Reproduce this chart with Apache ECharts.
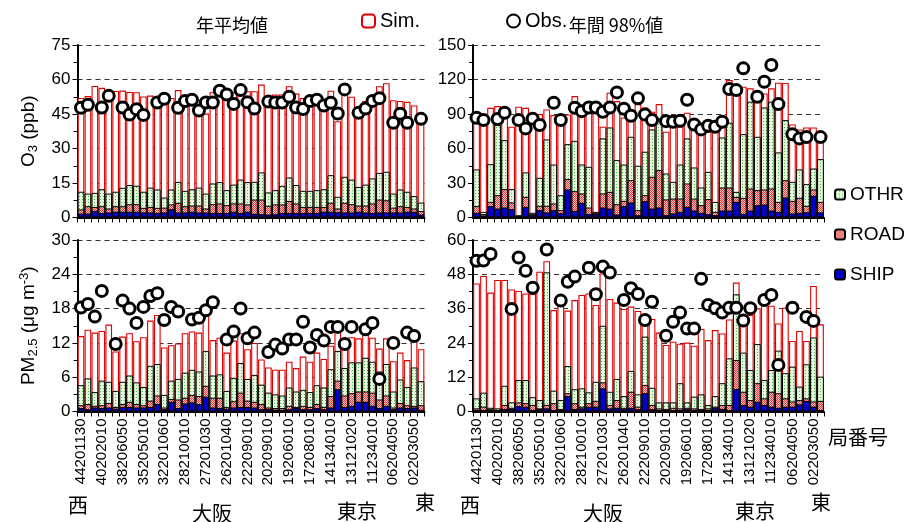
<!DOCTYPE html>
<html>
<head>
<meta charset="utf-8">
<script src="https://cdn.jsdelivr.net/npm/echarts@6/dist/echarts.min.js"></script>
<style>
  html, body { margin: 0; padding: 0; background: #fff; }
  #container { width: 916px; height: 522px; }
</style>
</head>
<body>
<div id="container"></div>
<script>
// station codes, west -> east (only every third one is printed on the axis)
const stations = [
  '44201130', '', '', '40202010', '', '', '38206050', '', '', '35205010', '', '',
  '32201060', '', '', '28210010', '', '', '27201030', '', '', '26201040', '', '',
  '22209010', '', '', '20209010', '', '', '19206010', '', '', '17208010', '', '',
  '14134010', '', '', '13121020', '', '', '11234010', '', '', '06204050', '', '',
  '02203050', ''
];

// O3 annual mean (ppb). othr/road/ship are the stacked levels (top of each block)
const o3MeanSim = [52.0, 52.8, 57.2, 56.4, 54.5, 55.0, 55.2, 54.6, 54.5, 52.6, 53.0, 51.7, 51.7, 52.0, 55.4, 51.7, 52.0, 46.7, 45.2, 54.5, 55.4, 54.2, 54.5, 54.6, 54.9, 54.9, 57.8, 52.8, 53.5, 53.5, 57.1, 53.9, 52.0, 51.7, 51.6, 51.0, 55.1, 41.9, 54.2, 52.5, 48.1, 50.7, 53.0, 57.1, 58.4, 51.0, 50.7, 50.3, 48.7, 40.9];
const o3MeanObs = [47.7, 49.0, null, 47.8, 52.9, null, 47.8, 44.8, 47.1, 44.6, null, 50.0, 51.6, null, 47.7, 50.6, 51.2, 46.5, 50.0, 50.0, 55.1, 53.5, 49.4, 55.4, 50.1, 47.4, null, 50.4, 50.0, 50.0, 52.5, 47.8, 47.2, 50.6, 51.2, 48.7, 49.9, 45.2, 55.7, null, 45.5, 47.4, 50.7, 51.9, null, 41.2, 45.1, 41.2, null, 42.9];
const o3MeanOthr = [11.2, 10.4, 10.7, 12.3, 10.4, 11.2, 12.9, 14.1, 13.8, 11.2, 13.0, 12.2, 8.7, 12.2, 15.5, 11.6, 12.3, 13.0, 10.4, 14.8, 15.4, 11.9, 14.3, 16.5, 15.4, 15.5, 19.6, 10.9, 11.9, 13.8, 17.4, 14.1, 11.6, 11.6, 11.9, 12.3, 18.4, 9.0, 17.7, 16.5, 13.3, 14.3, 17.0, 19.4, 19.9, 10.4, 12.2, 11.2, 9.3, 6.5];
const o3MeanRoad = [3.5, 4.9, 4.6, 4.9, 3.9, 4.9, 4.9, 5.8, 5.8, 4.2, 4.6, 4.2, 4.3, 5.7, 6.4, 4.9, 5.2, 5.2, 3.9, 5.8, 6.1, 5.4, 6.1, 6.1, 5.7, 7.8, 7.8, 5.1, 5.7, 5.7, 7.2, 6.1, 4.6, 4.6, 4.6, 4.6, 6.4, 3.9, 6.4, 5.8, 5.2, 5.2, 6.1, 7.8, 7.5, 4.3, 4.9, 4.6, 3.9, 2.8];
const o3MeanShip = [1.7, 1.7, 2.9, 2.0, 2.2, 2.5, 2.5, 2.5, 2.5, 2.2, 2.2, 2.0, 2.2, 3.6, 2.2, 2.2, 2.5, 2.2, 2.2, 2.0, 2.0, 2.0, 2.5, 2.0, 2.5, 1.6, 1.4, 1.3, 1.4, 2.0, 2.0, 2.0, 2.0, 2.0, 2.0, 2.5, 2.5, 2.3, 2.2, 2.2, 2.5, 2.2, 2.0, 2.2, 2.2, 2.2, 2.2, 2.5, 2.5, 1.3];

// O3 annual 98th percentile (ppb)
const o3P98Sim = [88.0, 86.0, 95.4, 96.9, 94.9, 78.9, 96.3, 95.4, 91.1, 89.9, 94.0, 89.1, 86.0, 89.6, 105.6, 92.0, 96.9, 96.3, 78.9, 108.5, 101.2, 87.0, 86.7, 98.6, 95.7, 92.0, 98.6, 74.6, 78.9, 78.9, 91.1, 81.8, 73.1, 74.6, 74.6, 81.8, 119.5, 114.3, 113.7, 112.3, 107.9, 107.9, 112.3, 117.2, 117.0, 80.9, 76.6, 78.3, 78.3, 67.3];
const o3P98Obs = [86.7, 84.7, null, 85.6, 91.1, null, 84.7, 77.5, 85.9, 80.4, null, 99.8, 84.7, null, 95.4, 92.5, 95.7, 95.7, 92.0, 95.7, 108.8, 94.6, 88.5, 103.6, 89.6, 84.7, null, 83.8, 83.3, 84.1, 102.4, 80.9, 76.6, 79.8, 78.9, 83.3, 111.7, 110.8, 129.7, null, 105.0, 118.1, 132.6, 98.6, null, 72.5, 68.8, 69.9, null, 69.9];
const o3P98Othr = [41.8, 4.9, 46.4, 80.4, 67.3, 24.7, 2.0, 39.2, 4.1, 34.5, 67.9, 46.1, 19.4, 63.8, 66.7, 46.1, 44.1, 4.9, 68.8, 78.3, 49.9, 46.1, 70.2, 45.0, 57.2, 76.6, 86.2, 38.3, 31.0, 46.1, 68.8, 43.5, 26.1, 39.7, 13.6, 69.6, 82.4, 22.3, 72.5, 100.7, 70.2, 95.7, 100.7, 56.6, 84.7, 31.0, 41.8, 29.0, 42.6, 50.8];
const o3P98Road = [9.9, 2.9, 13.6, 19.4, 24.7, 13.1, 1.2, 18.0, 2.9, 10.2, 10.2, 12.2, 6.4, 33.4, 22.9, 20.9, 8.7, 4.1, 20.9, 22.3, 11.6, 14.5, 32.5, 6.4, 19.4, 35.4, 41.2, 15.7, 16.5, 16.5, 29.6, 16.5, 10.7, 16.0, 4.9, 26.1, 26.1, 18.0, 17.1, 25.2, 23.8, 24.4, 25.2, 13.6, 32.5, 14.5, 17.1, 10.2, 24.4, 13.6];
const o3P98Ship = [4.1, 1.7, 9.9, 7.8, 8.7, 7.3, 0.6, 9.3, 2.0, 6.4, 4.4, 6.4, 3.8, 24.4, 5.8, 12.8, 2.9, 2.9, 8.7, 7.8, 2.6, 9.9, 13.1, 2.0, 14.2, 7.8, 8.7, 2.0, 3.5, 4.9, 9.3, 6.1, 4.1, 2.9, 2.0, 6.1, 6.1, 13.6, 3.2, 6.1, 10.7, 11.3, 6.1, 4.9, 17.4, 3.5, 4.1, 4.6, 18.9, 4.4];

// PM2.5 annual mean (ug m-3)
const pmMeanSim = [13.2, 14.3, 13.8, 14.1, 15.2, 10.5, 13.1, 13.7, 12.3, 13.0, 15.9, 16.9, 11.2, 11.6, 11.9, 13.7, 14.0, 13.8, 17.0, 12.5, 12.9, 10.3, 12.4, 13.7, 10.9, 12.0, 9.1, 7.7, 7.3, 7.3, 8.7, 7.6, 9.6, 8.7, 10.3, 9.2, 11.5, 14.0, 12.5, 13.0, 12.8, 13.8, 12.9, 11.0, 12.8, 8.8, 10.3, 9.0, 14.0, 10.9];
const pmMeanObs = [18.2, 18.8, 16.6, 21.1, null, 11.8, 19.4, 18.0, 15.5, 18.3, 20.2, 20.7, 16.0, 18.3, 17.5, null, 16.1, 16.4, 17.7, 19.1, null, 12.6, 14.0, 18.0, 12.8, 13.8, null, 10.4, 11.7, 11.0, 12.6, 12.6, 15.7, 11.2, 13.4, 12.4, 14.8, 14.8, 11.8, 14.8, null, 14.4, 15.5, 5.7, null, 12.0, null, 13.8, 13.2, null];
const pmMeanOthr = [4.6, 5.8, 3.4, 5.4, 5.2, 3.6, 5.2, 6.3, 5.1, 4.3, 8.0, 8.3, 2.9, 5.4, 5.7, 6.8, 7.3, 7.0, 10.6, 6.3, 6.5, 3.6, 5.9, 8.5, 5.7, 6.4, 4.7, 3.3, 3.0, 2.8, 4.2, 3.5, 3.8, 3.4, 4.6, 4.2, 7.4, 10.6, 7.6, 8.6, 8.6, 9.4, 8.7, 7.0, 8.3, 3.5, 5.6, 4.3, 7.7, 5.3];
const pmMeanRoad = [1.1, 1.3, 1.0, 1.1, 1.5, 0.8, 1.3, 1.7, 1.3, 1.1, 1.9, 2.8, 0.7, 2.2, 2.1, 2.4, 2.9, 2.7, 4.5, 2.4, 2.4, 0.8, 1.8, 3.3, 1.9, 1.7, 1.3, 0.7, 0.6, 0.6, 1.0, 0.8, 1.0, 0.8, 1.3, 0.8, 2.7, 5.4, 2.8, 3.2, 3.5, 3.5, 3.3, 2.1, 2.8, 0.7, 1.5, 1.1, 1.0, 1.1];
const pmMeanShip = [0.6, 0.4, 0.7, 0.6, 0.7, 0.5, 0.8, 0.8, 0.7, 0.7, 0.8, 1.3, 0.4, 1.7, 0.6, 1.4, 1.6, 1.3, 2.6, 0.7, 0.6, 0.5, 0.7, 0.8, 0.8, 0.7, 0.4, 0.4, 0.3, 0.3, 0.4, 0.6, 0.4, 0.4, 0.6, 0.4, 0.7, 3.9, 0.8, 1.0, 1.7, 1.7, 1.0, 0.6, 1.0, 0.4, 0.7, 0.6, 0.7, 0.3];

// PM2.5 annual 98th percentile (ug m-3)
const pmP98Sim = [44.8, 47.4, 41.6, 46.0, 46.0, 42.7, 42.2, 41.3, 41.1, 48.9, 52.6, 35.5, 37.5, 35.3, 39.0, 40.8, 41.3, 37.3, 48.3, 39.4, 38.1, 35.9, 36.7, 35.2, 32.4, 32.4, 27.6, 23.3, 24.4, 23.7, 24.1, 23.0, 28.9, 25.0, 28.5, 27.3, 32.2, 45.1, 32.0, 33.8, 36.1, 39.0, 37.0, 30.8, 36.3, 24.7, 28.2, 24.7, 43.9, 30.5];
const pmP98Obs = [52.7, 52.8, 55.1, null, null, 35.9, 53.9, 49.2, 43.3, null, 56.7, null, 38.8, 45.4, 47.2, null, 50.3, 41.0, 50.7, 48.6, null, 39.0, 43.1, 41.1, 32.0, 38.4, null, 26.5, 31.4, 34.6, 29.0, 29.0, 46.4, 37.3, 36.1, 34.6, 36.3, 36.3, 31.8, 36.1, null, 39.0, 40.8, 16.3, null, 36.3, null, 33.1, 31.7, null];
const pmP98Othr = [4.6, 6.6, 1.3, 1.1, 9.0, 3.2, 11.0, 11.0, 5.0, 4.0, 48.7, 7.3, 4.0, 15.9, 7.8, 8.1, 6.7, 10.4, 30.0, 6.9, 11.4, 5.4, 14.2, 6.0, 26.2, 8.3, 3.2, 3.2, 3.2, 9.9, 3.2, 5.2, 6.0, 2.3, 5.4, 9.9, 18.6, 41.0, 20.6, 14.5, 23.6, 11.0, 14.5, 21.3, 13.4, 15.7, 8.7, 16.5, 25.9, 12.2];
const pmP98Road = [1.1, 1.7, 0.8, 0.5, 2.3, 1.3, 3.2, 2.9, 2.3, 1.1, 2.3, 2.9, 0.9, 6.4, 2.9, 1.7, 2.9, 3.7, 10.2, 2.3, 4.0, 1.3, 6.9, 1.7, 9.3, 2.3, 1.1, 0.9, 1.3, 1.1, 1.3, 1.1, 0.9, 1.1, 1.7, 2.3, 2.3, 18.0, 6.9, 4.0, 9.9, 4.6, 6.9, 6.4, 4.6, 3.5, 4.0, 4.6, 3.5, 3.7];
const pmP98Ship = [0.5, 0.5, 0.4, 0.3, 0.9, 0.9, 1.9, 1.7, 0.5, 0.8, 1.1, 0.5, 0.5, 5.4, 0.9, 1.1, 1.7, 1.7, 8.1, 1.1, 1.3, 0.8, 1.3, 0.8, 6.4, 0.8, 0.5, 0.5, 0.5, 0.5, 0.8, 0.5, 0.5, 0.5, 1.3, 0.9, 0.5, 7.9, 2.3, 1.7, 3.4, 2.3, 1.7, 1.3, 1.7, 1.7, 2.5, 3.7, 1.7, 0.5];

const FONT = 'Liberation Sans, Arial, sans-serif';
const CJK = 'Noto Sans CJK JP, sans-serif';

// small repeating fills for the hatched blocks
function pattern(w, h, bg, dots) {
  const c = document.createElement('canvas');
  c.width = w; c.height = h;
  const g = c.getContext('2d');
  g.fillStyle = bg;
  g.fillRect(0, 0, w, h);
  dots.forEach(([x, y, col]) => { g.fillStyle = col; g.fillRect(x, y, 1, 1); });
  return { image: c, repeat: 'repeat' };
}
const othrFill = pattern(3, 3, '#e2f9dc', [[1, 1, '#44c044']]);
const roadFill = pattern(2, 2, '#f8c2c2', [[0, 0, '#e23c3c'], [1, 1, '#e23c3c']]);
const shipFill = '#0000cc';

const panels = [
  { left: 77.5, top: 45, width: 347, height: 172.5, max: 75, step: 15,
    sim: o3MeanSim, obs: o3MeanObs, othr: o3MeanOthr, road: o3MeanRoad, ship: o3MeanShip },
  { left: 473, top: 45, width: 351, height: 172.5, max: 150, step: 30,
    sim: o3P98Sim, obs: o3P98Obs, othr: o3P98Othr, road: o3P98Road, ship: o3P98Ship },
  { left: 77.5, top: 240, width: 347, height: 171.5, max: 30, step: 6,
    sim: pmMeanSim, obs: pmMeanObs, othr: pmMeanOthr, road: pmMeanRoad, ship: pmMeanShip },
  { left: 473, top: 240, width: 351, height: 171.5, max: 60, step: 12,
    sim: pmP98Sim, obs: pmP98Obs, othr: pmP98Othr, road: pmP98Road, ship: pmP98Ship }
];

const yNames = [
  '{t|O}{sub|3}{t| (ppb)}',
  '',
  '{t|PM}{sub|2.5}{t| (μg m}{sup|-3}{t|)}',
  ''
];

const grid = panels.map(p => ({ left: p.left, top: p.top, width: p.width, height: p.height }));

const xAxis = panels.map((p, i) => ({
  type: 'category',
  gridIndex: i,
  data: stations,
  axisLine: { lineStyle: { color: '#000', width: 2 } },
  axisTick: { show: true, interval: 0, length: 5, lineStyle: { color: '#000' } },
  axisLabel: {
    show: i >= 2, interval: 2, rotate: 90, margin: 7,
    color: '#000', fontFamily: FONT, fontSize: 15
  }
}));

const yAxis = panels.map((p, i) => ({
  type: 'value',
  gridIndex: i,
  min: 0, max: p.max, interval: p.step,
  name: yNames[i],
  nameLocation: 'middle',
  nameGap: 38,
  nameTextStyle: {
    rich: {
      t: { fontFamily: FONT, fontSize: 19, color: '#000' },
      sub: { fontFamily: FONT, fontSize: 13, color: '#000', padding: [9, 0, 0, 0] },
      sup: { fontFamily: FONT, fontSize: 13, color: '#000', padding: [0, 0, 9, 0] }
    }
  },
  axisLine: { show: true, lineStyle: { color: '#000', width: 2 } },
  axisTick: { show: true, length: 5, lineStyle: { color: '#000' } },
  minorTick: { show: true, splitNumber: 2, length: 4, lineStyle: { color: '#000' } },
  splitLine: { show: true, lineStyle: { color: '#333', width: 1.2, type: [5, 4] } },
  axisLabel: { color: '#000', fontFamily: FONT, fontSize: 17, margin: 7 }
}));

function panelSeries(p, i) {
  const bar = (name, data, style, z) => ({
    name, type: 'bar', xAxisIndex: i, yAxisIndex: i, data,
    barGap: '-100%', barCategoryGap: '4%', itemStyle: style, z
  });
  return [
    bar('Sim.', p.sim, { color: '#fff', borderColor: '#e00000', borderWidth: 1.1 }, 2),
    bar('OTHR', p.othr, { color: othrFill, borderColor: '#000', borderWidth: 1 }, 3),
    bar('ROAD', p.road, { color: roadFill, borderColor: '#000', borderWidth: 1 }, 4),
    bar('SHIP', p.ship, { color: shipFill, borderColor: '#000', borderWidth: 1 }, 5),
    {
      name: 'Obs.', type: 'scatter', xAxisIndex: i, yAxisIndex: i, data: p.obs,
      symbol: 'circle', symbolSize: 11, z: 6,
      itemStyle: { color: '#fff', borderColor: '#000', borderWidth: 3, opacity: 1 }
    }
  ];
}

const textEl = (text, x, y, size, font) => ({
  type: 'text', x, y, silent: true,
  style: { text, fill: '#000', font: `${size}px ${font || CJK}`, textAlign: 'center', textVerticalAlign: 'middle' }
});

const option = {
  animation: false,
  backgroundColor: '#fff',
  legend: [
    {
      data: ['Sim.', 'Obs.'], left: 356, top: 6, itemGap: 86,
      itemWidth: 13, itemHeight: 13, selectedMode: false,
      textStyle: { fontFamily: FONT, fontSize: 20, color: '#000' }
    },
    {
      data: ['OTHR', 'ROAD', 'SHIP'], orient: 'vertical', left: 829, top: 180,
      itemWidth: 10, itemHeight: 10, itemGap: 21, selectedMode: false,
      textStyle: { fontFamily: FONT, fontSize: 19, color: '#000' }
    }
  ],
  grid,
  xAxis,
  yAxis,
  series: panels.flatMap(panelSeries),
  graphic: [
    textEl('年平均値', 232, 25, 18),
    textEl('年間 98%値', 616, 25, 18),
    textEl('局番号', 858, 437, 20),
    textEl('西', 78, 505, 20),
    textEl('大阪', 212, 513, 20),
    textEl('東京', 357, 511, 20),
    textEl('東', 425, 502, 20),
    textEl('西', 470, 505, 20),
    textEl('大阪', 603, 513, 20),
    textEl('東京', 755, 511, 20),
    textEl('東', 821, 502, 20)
  ]
};

const myChart = echarts.init(document.getElementById('container'));
myChart.setOption(option);
</script>
</body>
</html>
